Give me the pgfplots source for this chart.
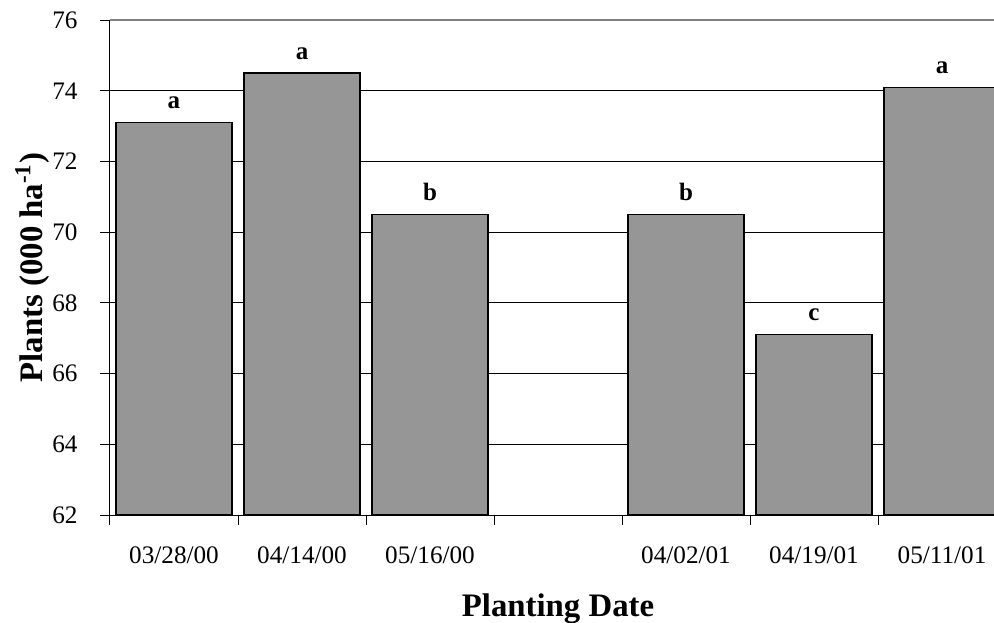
\documentclass[border=0pt]{standalone}
\usepackage{pgfplots}
\usepackage{pgfplotstable}
\pgfplotsset{compat=1.18}
\usepackage{fontspec}
\setmainfont{Liberation Serif}
\definecolor{barfill}{RGB}{150,150,150}
\definecolor{topline}{RGB}{128,128,128}

% Plant stand by planting date; column 3 holds the mean-separation letters
\pgfplotstableread{
x y grp
0 73.1 a
1 74.5 a
2 70.5 b
4 70.5 b
5 67.1 c
6 74.1 a
}\plants

\begin{document}
\begin{tikzpicture}
\begin{axis}[
  at={(0,0)}, anchor=south west,
  scale only axis, width=442pt, height=247.5pt,
  xmin=-0.5, xmax=6.40625, ymin=62, ymax=76,
  axis x line*=bottom, axis y line*=left,
  axis line style={-, line width=0.5pt, black},
  ybar, bar width=0.906,
  ytick={62,64,...,74},
  extra y ticks={76},
  extra y tick style={grid style={topline, line width=0.7pt}},
  ymajorgrids, grid style={black, line width=0.5pt},
  tick align=outside, major tick length=5pt,
  tick style={black, line width=0.5pt},
  xtick={-0.5,0.5,...,5.5},
  xticklabel=\empty,
  extra x ticks={0,1,2,4,5,6},
  extra x tick labels={03/28/00,04/14/00,05/16/00,04/02/01,04/19/01,05/11/01},
  extra x tick style={major tick length=0pt},
  /pgf/number format/assume math mode=true,
  tick label style={font=\fontsize{12.6}{15}\selectfont, black},
  yticklabel style={anchor=east, inner sep=0pt, xshift=-11pt},
  xticklabel style={anchor=base, inner sep=0pt, yshift=-24pt},
  ylabel={\textbf{Plants (000 ha\textsuperscript{-1})}},
  xlabel={\textbf{Planting Date}},
  label style={font=\fontsize{16.4}{19}\selectfont},
  ylabel style={at={(axis description cs:-0.0758,0.5)}, anchor=base, inner sep=0pt},
  xlabel style={at={(axis description cs:0.5068,-0.206)}, anchor=base, inner sep=0pt},
]
\addplot[fill=barfill, draw=black, line width=0.6pt,
  nodes near coords, point meta=explicit symbolic,
  every node near coord/.append style={anchor=base, yshift=7pt, inner sep=0pt,
    font=\fontsize{12.5}{15}\selectfont\bfseries, black}]
  table[x=x, y=y, meta=grp]{\plants};
\end{axis}
\pgfresetboundingbox
\path[use as bounding box] (-55pt,-53.5pt) rectangle (442pt,257.5pt);
\end{tikzpicture}
\end{document}
